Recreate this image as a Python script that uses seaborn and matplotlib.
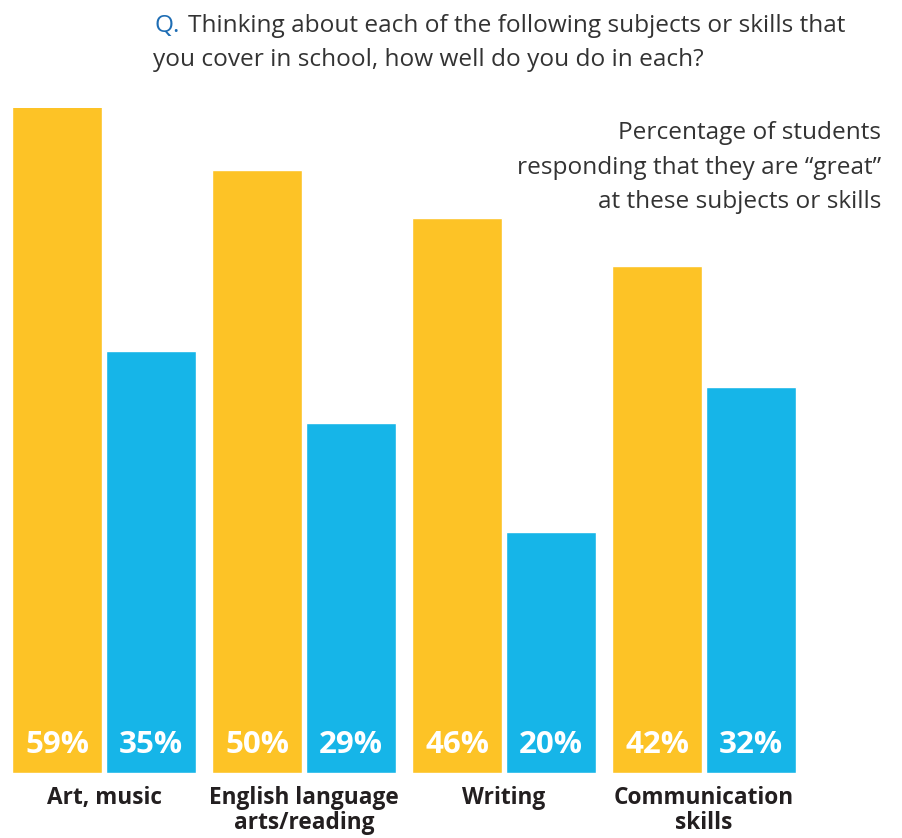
import matplotlib
matplotlib.use("Agg")
import matplotlib.pyplot as plt
import seaborn as sns
import pandas as pd

# Survey results: share of students saying they are "great" at each subject
categories = ["Art, music", "English language\narts/reading", "Writing", "Communication\nskills"]
groups = ["Group A", "Group B"]
values_a = [59, 50, 46, 42]
values_b = [35, 29, 20, 32]

colors = {"Group A": "#FDC326", "Group B": "#16B5E8"}

df = pd.DataFrame({
    "category": categories * 2,
    "group": [groups[0]] * 4 + [groups[1]] * 4,
    "value": values_a + values_b,
})

sns.set_theme(style="white")
plt.rcParams["font.family"] = ["Open Sans", "DejaVu Sans"]

W, H = 902, 838
fig = plt.figure(figsize=(W / 100, H / 100), dpi=100)

def fx(px):
    return px / W

def fy(py):
    return 1 - py / H

# axes spans the full width; baseline at y=773, top at y=108
ax = fig.add_axes([0, fy(773), 1, (773 - 108) / H])

sns.barplot(data=df, x="category", y="value", hue="group", palette=colors,
            order=categories, hue_order=groups, width=0.94, gap=0.043,
            saturation=1, legend=False, ax=ax)

ax.set_xlim(-0.52, 3.99)
ax.set_ylim(0, 55.1)

for spine in ax.spines.values():
    spine.set_visible(False)
ax.set_yticks([])
ax.set_xlabel("")
ax.set_ylabel("")
ax.tick_params(axis="x", length=0, pad=9)
ax.set_xticks(range(len(categories)))
ax.set_xticklabels(categories, fontsize=16.3, fontweight="bold", color="#231F20",
                   family=["Open Sans", "DejaVu Sans"], linespacing=1.1)

# value labels at the foot of each bar
for container, vals in zip(ax.containers, [values_a, values_b]):
    for bar, v in zip(container, vals):
        ax.text(bar.get_x() + bar.get_width() / 2, 1.65, f"{v}%",
                ha="center", va="baseline", color="white", fontsize=22.5,
                fontweight="bold", family=["Open Sans", "DejaVu Sans"])

# question heading
title_kw = dict(color="#333333", fontsize=17.6, va="baseline", ha="left")
fig.text(fx(154), fy(32), "Q.", **{**title_kw, "color": "#1E6DB4"})
fig.text(fx(188), fy(32), "Thinking about each of the following subjects or skills that", **title_kw)
fig.text(fx(153), fy(66), "you cover in school, how well do you do in each?", **title_kw)

# explanatory note, right aligned
note_lines = ["Percentage of students",
              "responding that they are \u201cgreat\u201d",
              "at these subjects or skills"]
for i, line in enumerate(note_lines):
    fig.text(fx(881), fy(139 + 34.5 * i), line, color="#333333", fontsize=17.6,
             va="baseline", ha="right")

fig.savefig("out.png", dpi=100)
